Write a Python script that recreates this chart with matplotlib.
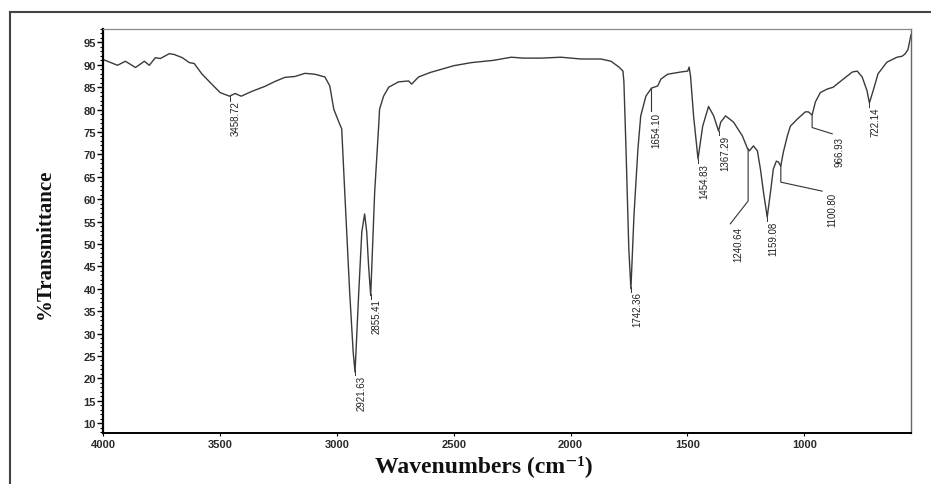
"""
FTIR spectrum, % transmittance vs wavenumber
"""
import matplotlib
matplotlib.use('Agg')
import matplotlib.pyplot as plt
from matplotlib.lines import Line2D
from matplotlib.ticker import MultipleLocator
import numpy as np

#----------------------------------------------------------------------
# data
wavenumber = [4000, 3938, 3904, 3861, 3823, 3802, 3776, 3755, 3716, 3695,
              3661, 3631, 3610, 3576, 3533, 3499, 3459, 3435, 3409, 3362,
              3307, 3264, 3222, 3179, 3136, 3094, 3051, 3030, 3013, 2991,
              2979, 2966, 2945, 2930, 2922, 2906, 2893, 2881, 2872, 2864,
              2855, 2838, 2821, 2817, 2800, 2778, 2736, 2693, 2680, 2650,
              2600, 2500, 2424, 2330, 2254, 2200, 2126, 2041, 1955, 1870,
              1827, 1793, 1776, 1772, 1763, 1751, 1742, 1729, 1712, 1700,
              1678, 1654, 1627, 1614, 1585, 1529, 1499, 1493, 1487, 1474,
              1455, 1435, 1410, 1388, 1367, 1358, 1337, 1303, 1265, 1244,
              1235, 1218, 1201, 1188, 1175, 1159, 1145, 1133, 1120, 1111,
              1101, 1090, 1073, 1060, 1030, 996, 983, 967, 953, 932,
              902, 877, 834, 795, 774, 753, 732, 722, 706, 685,
              647, 604, 583, 570, 557, 544]
transmittance = [91.2, 89.9, 90.8, 89.4, 90.8, 89.9, 91.6, 91.4, 92.5, 92.3,
                 91.6, 90.5, 90.3, 87.9, 85.6, 83.8, 83.0, 83.6, 83.0, 84.1,
                 85.2, 86.3, 87.2, 87.4, 88.1, 87.9, 87.3, 85.3, 80.1, 77.2,
                 75.7, 61.6, 39.3, 25.9, 21.4, 39.3, 52.7, 56.7, 52.7, 45.1,
                 38.5, 61.6, 76.3, 80.1, 83.0, 85.0, 86.2, 86.4, 85.7, 87.3,
                 88.3, 89.8, 90.5, 91.0, 91.7, 91.5, 91.5, 91.7, 91.3, 91.3,
                 90.8, 89.5, 88.6, 86.2, 71.2, 48.9, 40.0, 56.3, 71.2, 78.6,
                 83.0, 84.8, 85.3, 86.8, 87.9, 88.4, 88.6, 89.5, 87.5, 78.6,
                 69.0, 76.3, 80.7, 78.6, 75.2, 77.2, 78.6, 77.2, 74.1, 71.4,
                 70.8, 71.9, 70.8, 66.7, 61.6, 56.0, 61.6, 66.7, 68.5, 68.3,
                 67.4, 70.5, 74.1, 76.3, 77.9, 79.5, 79.5, 78.8, 81.7, 83.8,
                 84.6, 85.0, 86.8, 88.4, 88.6, 87.3, 84.2, 81.5, 84.2, 88.0,
                 90.6, 91.7, 91.9, 92.4, 93.4, 96.7]

# peak labels
simple_peaks = [3458.72, 2921.63, 2855.41, 1742.36, 1454.83, 1367.29, 1159.08, 722.14]
leader_peaks = [1654.10, 1240.64, 1100.80, 966.93]

xticks = [4000, 3500, 3000, 2500, 2000, 1500, 1000]
yticks = list(range(10, 100, 5))

#----------------------------------------------------------------------
W, H = 931, 485
fig = plt.figure(figsize=(W / 100, H / 100), dpi=100)
ax = fig.add_axes([103 / W, 1 - 434 / H, (911 - 103) / W, (434 - 30) / H])

ax.plot(wavenumber, transmittance, color='#3a3a3a', lw=1.0)

ax.set_xlim(4000, 544)
ax.set_ylim(7.8, 98)
ax.set_xticks(xticks)
ax.set_yticks(yticks)
ax.yaxis.set_minor_locator(MultipleLocator(1))
tickfont = {'family': 'Liberation Sans', 'size': 8, 'weight': 'bold', 'color': '#2a2a2a'}
ax.set_xticklabels([str(t) for t in xticks], fontdict=tickfont)
ax.set_yticklabels([str(t) for t in yticks], fontdict=tickfont)
ax.tick_params(axis='y', which='major', direction='out', length=4, width=1, pad=1)
ax.tick_params(axis='y', which='minor', direction='out', length=2.5, width=0.8)
ax.tick_params(axis='x', which='major', direction='out', length=2, width=0.8, pad=2)

ax.spines['left'].set_linewidth(1.6)
ax.spines['bottom'].set_linewidth(1.4)
ax.spines['top'].set_color('#888888')
ax.spines['top'].set_linewidth(0.9)
ax.spines['right'].set_color('#666666')
ax.spines['right'].set_linewidth(1.0)

lab = {'family': 'Liberation Sans', 'size': 7, 'color': '#222222'}

#simple peaks: short tick under the minimum then the rotated label
for p in simple_peaks:
    t = np.interp(p, wavenumber[::-1], transmittance[::-1])
    ax.plot([p, p], [t, t - 1.0], color='#333333', lw=0.7)
    ax.annotate(f'{p:.2f}', (p, t), xytext=(1, -3), textcoords='offset points',
                rotation=90, ha='left', va='top', **lab)

#peaks with bent leader lines: (bend point, end point, text anchor)
leaders = {
    1654.10: [(1654.10, 79.7), (1654.10, 79.7), (1654.10, 79.5)],
    1240.64: [(1240.64, 59.6), (1317, 54.5), (1304, 54.0)],
    1100.80: [(1100.80, 63.8), (924, 61.8), (902, 61.6)],
    966.93: [(966.93, 76.0), (881, 74.6), (872, 74.1)],
}
for p in leader_peaks:
    t = np.interp(p, wavenumber[::-1], transmittance[::-1])
    bend, end, txt = leaders[p]
    ax.plot([p, bend[0], end[0]], [t, bend[1], end[1]], color='#333333', lw=0.8)
    ax.text(txt[0], txt[1], f'{p:.2f}', rotation=90, ha='left', va='top', **lab)

#axis titles
fig.text(45 / W, 1 - 244 / H, '%Transmittance', rotation=90, ha='center', va='center',
         family='Liberation Serif', size=15, weight='bold', color='#111111')
fig.text(484 / W, 1 - 472 / H, 'Wavenumbers (cm\u207b\u00b9)', ha='center', va='baseline',
         family=['Liberation Serif', 'DejaVu Serif'], size=17, weight='bold', color='#111111')

#outer frame of the figure
fig.add_artist(Line2D([10 / W, 10 / W], [0, 1 - 13 / H], color='#444444', lw=1.5))
fig.add_artist(Line2D([10 / W, 1], [1 - 13 / H, 1 - 13 / H], color='#444444', lw=1.5))

plt.savefig('out.png', dpi=100)
